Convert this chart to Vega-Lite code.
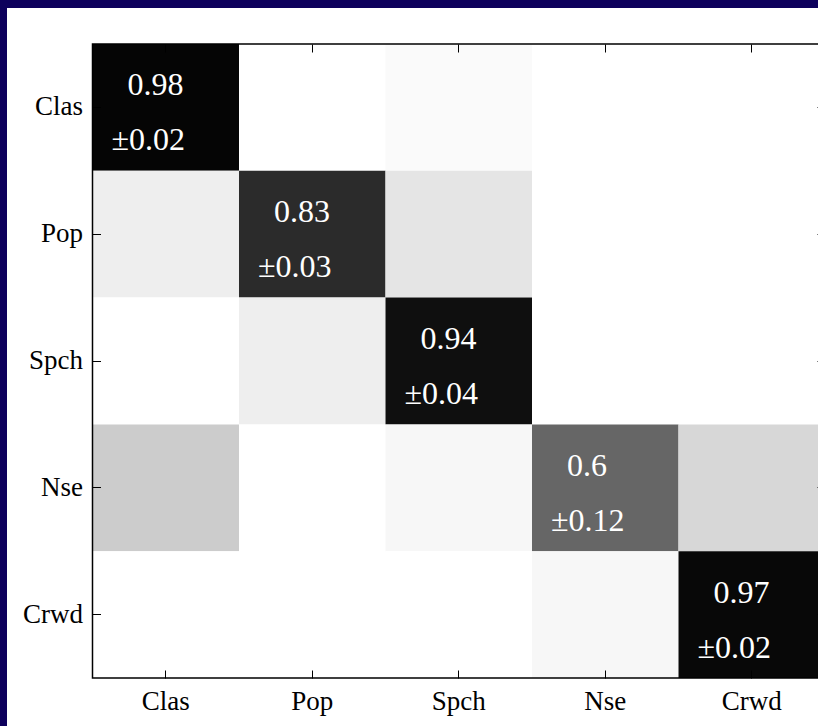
{
  "$schema": "https://vega.github.io/schema/vega-lite/v6.json",
  "autosize": {"type": "none"},
  "padding": {"left": 7, "top": 8, "right": 0, "bottom": 0},
  "width": 818,
  "height": 718,
  "background": "#0d005c",
  "config": {
    "view": {"fill": "white", "stroke": null},
    "font": "Liberation Serif"
  },
  "datasets": {
    "cells": [
      {"row": "Clas", "col": "Clas", "value": 0.98, "acc": "0.98", "std": "±0.02"},
      {"row": "Clas", "col": "Pop", "value": 0.0},
      {"row": "Clas", "col": "Spch", "value": 0.02},
      {"row": "Clas", "col": "Nse", "value": 0.0},
      {"row": "Clas", "col": "Crwd", "value": 0.0},
      {"row": "Pop", "col": "Clas", "value": 0.067},
      {"row": "Pop", "col": "Pop", "value": 0.83, "acc": "0.83", "std": "±0.03"},
      {"row": "Pop", "col": "Spch", "value": 0.103},
      {"row": "Pop", "col": "Nse", "value": 0.0},
      {"row": "Pop", "col": "Crwd", "value": 0.0},
      {"row": "Spch", "col": "Clas", "value": 0.0},
      {"row": "Spch", "col": "Pop", "value": 0.067},
      {"row": "Spch", "col": "Spch", "value": 0.94, "acc": "0.94", "std": "±0.04"},
      {"row": "Spch", "col": "Nse", "value": 0.0},
      {"row": "Spch", "col": "Crwd", "value": 0.0},
      {"row": "Nse", "col": "Clas", "value": 0.2},
      {"row": "Nse", "col": "Pop", "value": 0.0},
      {"row": "Nse", "col": "Spch", "value": 0.03},
      {"row": "Nse", "col": "Nse", "value": 0.6, "acc": "0.6", "std": "±0.12"},
      {"row": "Nse", "col": "Crwd", "value": 0.155},
      {"row": "Crwd", "col": "Clas", "value": 0.0},
      {"row": "Crwd", "col": "Pop", "value": 0.0},
      {"row": "Crwd", "col": "Spch", "value": 0.0},
      {"row": "Crwd", "col": "Nse", "value": 0.03},
      {"row": "Crwd", "col": "Crwd", "value": 0.97, "acc": "0.97", "std": "±0.02"}
    ],
    "frame": [{"a": "Clas", "b": "Crwd"}]
  },
  "resolve": {"axis": {"x": "independent", "y": "independent"}},
  "layer": [
    {
      "data": {"name": "cells"},
      "mark": {"type": "rect"},
      "encoding": {
        "x": {
          "field": "col", "type": "nominal",
          "scale": {"type": "band", "domain": ["Clas", "Pop", "Spch", "Nse", "Crwd"], "paddingInner": 0, "paddingOuter": 0.2918, "align": 1},
          "axis": {"orient": "bottom", "offset": -48, "domain": false, "tickSize": -8, "tickColor": "black", "tickWidth": 1, "labelAngle": 0, "labelFont": "Liberation Serif", "labelFontSize": 27, "labelColor": "black", "labelPadding": 18, "title": null}
        },
        "y": {
          "field": "row", "type": "nominal",
          "scale": {"type": "band", "domain": ["Clas", "Pop", "Spch", "Nse", "Crwd"], "paddingInner": 0, "paddingOuter": 0.3312, "align": 0.4286},
          "axis": {"orient": "left", "offset": -85.5, "domain": false, "tickSize": -8, "tickColor": "black", "tickWidth": 1, "labelFont": "Liberation Serif", "labelFontSize": 27, "labelColor": "black", "labelPadding": 18, "title": null}
        },
        "color": {
          "field": "value", "type": "quantitative",
          "scale": {"domain": [0, 1], "range": ["#ffffff", "#000000"], "interpolate": "rgb"},
          "legend": null
        }
      }
    },
    {
      "data": {"name": "frame"},
      "mark": {"type": "rect", "fill": null, "fillOpacity": 0, "stroke": "black", "strokeWidth": 1.5},
      "encoding": {
        "x": {
          "field": "a", "type": "nominal", "bandPosition": 0,
          "axis": {"orient": "top", "offset": -36, "domain": false, "labels": false, "tickSize": -8, "tickColor": "black", "tickWidth": 1, "title": null}
        },
        "x2": {"field": "b", "bandPosition": 1},
        "y": {
          "field": "a", "type": "nominal", "bandPosition": 0,
          "axis": {"orient": "right", "offset": 0, "domain": false, "labels": false, "tickSize": -8, "tickColor": "black", "tickWidth": 1, "title": null}
        },
        "y2": {"field": "b", "bandPosition": 1}
      }
    },
    {
      "data": {"name": "cells"},
      "transform": [{"filter": "isValid(datum.acc)"}],
      "mark": {"type": "text", "align": "left", "baseline": "alphabetic", "dx": 35, "dy": -12, "font": "Liberation Serif", "fontSize": 32, "color": "white"},
      "encoding": {
        "x": {"field": "col", "type": "nominal", "bandPosition": 0, "axis": null},
        "y": {"field": "row", "type": "nominal", "axis": null},
        "text": {"field": "acc"}
      }
    },
    {
      "data": {"name": "cells"},
      "transform": [{"filter": "isValid(datum.std)"}],
      "mark": {"type": "text", "align": "left", "baseline": "alphabetic", "dx": 19, "dy": 43, "font": "Liberation Serif", "fontSize": 32, "color": "white"},
      "encoding": {
        "x": {"field": "col", "type": "nominal", "bandPosition": 0, "axis": null},
        "y": {"field": "row", "type": "nominal", "axis": null},
        "text": {"field": "std"}
      }
    }
  ]
}
